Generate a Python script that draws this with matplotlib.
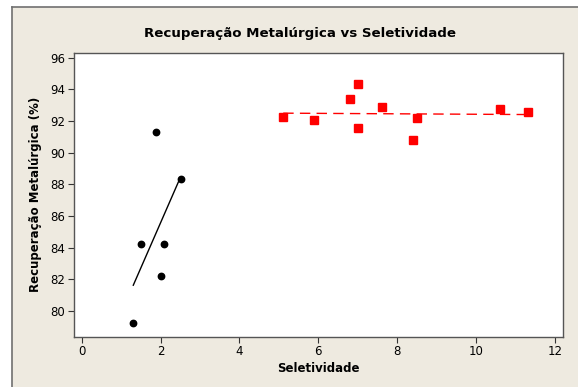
import numpy as np
import matplotlib.pyplot as plt
from matplotlib.patches import Rectangle
from matplotlib.lines import Line2D

# grupo 1 (pretos)
sel_1 = [1.89, 2.51, 1.51, 2.10, 2.00, 1.31]
rec_1 = [91.29, 88.36, 84.23, 84.23, 82.20, 79.22]

# grupo 2 (vermelhos)
sel_2 = [5.11, 5.90, 6.79, 7.00, 7.00, 7.61, 8.41, 8.51, 10.60, 11.31]
rec_2 = [92.23, 92.04, 93.39, 94.32, 91.54, 92.86, 90.78, 92.17, 92.74, 92.55]

x_ticks = [0, 2, 4, 6, 8, 10, 12]
y_ticks = [80, 82, 84, 86, 88, 90, 92, 94, 96]

W, H = 578, 387
bege = '#eeeae0'

fig = plt.figure(figsize=(W / 100, H / 100), dpi=100)
fig.patch.set_facecolor('white')

# moldura do gráfico (estilo Minitab)
fig.patches.append(Rectangle((12 / W, 0), 1, 1 - 7 / H, transform=fig.transFigure,
                             facecolor=bege, edgecolor='none', zorder=-1))
fig.lines.append(Line2D([12 / W, 12 / W], [0, 1 - 7 / H], transform=fig.transFigure,
                        color='#707070', lw=1.2))
fig.lines.append(Line2D([12 / W, 1], [1 - 7 / H, 1 - 7 / H], transform=fig.transFigure,
                        color='#707070', lw=1.2))

left, right, top, bottom = 73.7, 563, 52.7, 337
ax = fig.add_axes([left / W, 1 - bottom / H, (right - left) / W, (bottom - top) / H])
ax.set_facecolor('white')

ax.plot(sel_1, rec_1, 'o', color='black', markersize=4.6, zorder=3)
ax.plot(sel_2, rec_2, 's', color='red', markersize=5.2, zorder=3)

# retas de regressão de cada grupo
for xs, ys, c, ls in [(sel_1, rec_1, 'black', '-'), (sel_2, rec_2, 'red', (0, (7.5, 4.5)))]:
    b, a = np.polyfit(xs, ys, 1)
    xx = np.array([min(xs), max(xs)])
    ax.plot(xx, a + b * xx, color=c, lw=1.0, linestyle=ls, zorder=2)

ax.set_xlim(-0.2, 12.2)
ax.set_ylim(78.36, 96.32)
ax.set_xticks(x_ticks)
ax.set_yticks(y_ticks)
ax.tick_params(direction='out', length=4, width=0.8, color='#333333',
               labelsize=8.5, pad=2)
for s in ax.spines.values():
    s.set_color('#555555')
    s.set_linewidth(1.0)

ax.set_xlabel('Seletividade', fontsize=8.5, fontweight='bold', labelpad=3)
ax.set_ylabel('Recuperação Metalúrgica (%)', fontsize=8.5, fontweight='bold', labelpad=6)
fig.text(300 / W, 1 - 34 / H, 'Recuperação Metalúrgica vs Seletividade',
         ha='center', va='center', fontsize=9.6, fontweight='bold')

fig.savefig('out.png', dpi=100, facecolor=fig.get_facecolor())
